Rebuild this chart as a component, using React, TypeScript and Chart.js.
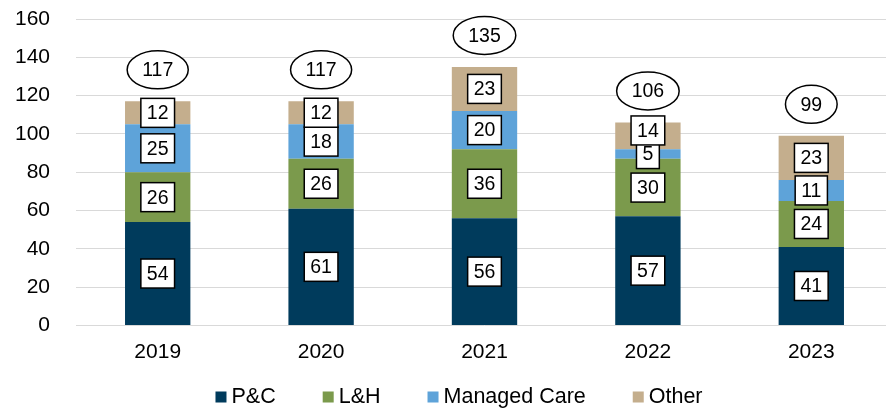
import React, { useEffect, useRef } from "react";
import { Chart, registerables } from "chart.js";

Chart.register(...registerables);

const categories = ["2019", "2020", "2021", "2022", "2023"];
const pcValues = [54, 61, 56, 57, 41];
const lhValues = [26, 26, 36, 30, 24];
const managedCareValues = [25, 18, 20, 5, 11];
const otherValues = [12, 12, 23, 14, 23];
const totalValues = [117, 117, 135, 106, 99];
const seriesNames = ["P&C", "L&H", "Managed Care", "Other"];
const seriesColors = ["#003B5C", "#7B9A4C", "#5EA3D9", "#C4AE8D"];
const yMin = 0;
const yMax = 160;
const yStep = 20;

const FONT = "'Liberation Sans', Arial, sans-serif";

const labelPlugin = {
  id: "boxLabels",
  afterDatasetsDraw(chart: any) {
    const ctx = chart.ctx;
    ctx.save();
    ctx.font = `19.5px ${FONT}`;
    ctx.textAlign = "center";
    ctx.textBaseline = "middle";
    const nDs = chart.data.datasets.length;
    for (let i = 0; i < categories.length; i++) {
      let prevTop = Infinity;
      let topY = Infinity;
      let cx = 0;
      for (let d = 0; d < nDs; d++) {
        const el = chart.getDatasetMeta(d).data[i];
        const p = el.getProps(["x", "y", "base"], true);
        const v = chart.data.datasets[d].data[i];
        cx = p.x;
        topY = Math.min(topY, p.y);
        const cy = (p.y + p.base) / 2;
        const text = String(v);
        const tw = ctx.measureText(text).width;
        const w = tw + 12;
        const h = 29;
        let top = cy - h / 2;
        const bottom = top + h;
        if (bottom > prevTop) {
          top -= (bottom - prevTop) / 2;
        }
        prevTop = top;
        ctx.fillStyle = "#ffffff";
        ctx.fillRect(p.x - w / 2, top, w, h);
        ctx.lineWidth = 1.5;
        ctx.strokeStyle = "#000000";
        ctx.strokeRect(p.x - w / 2, top, w, h);
        ctx.fillStyle = "#000000";
        ctx.fillText(text, p.x, top + h / 2 + 1);
      }
      const t = String(totalValues[i]);
      const tw = ctx.measureText(t).width;
      const rx = tw / 2 + 15;
      const ry = 19;
      const ecy = topY - 31.5;
      ctx.beginPath();
      ctx.ellipse(cx, ecy, rx, ry, 0, 0, Math.PI * 2);
      ctx.fillStyle = "#ffffff";
      ctx.fill();
      ctx.lineWidth = 1.5;
      ctx.strokeStyle = "#000000";
      ctx.stroke();
      ctx.fillStyle = "#000000";
      ctx.fillText(t, cx, ecy + 1);
    }
    ctx.restore();
  },
};

const legendPlugin = {
  id: "customLegend",
  afterDraw(chart: any) {
    const ctx = chart.ctx;
    ctx.save();
    ctx.font = `21.5px ${FONT}`;
    ctx.textBaseline = "middle";
    ctx.textAlign = "left";
    const box = 11;
    const gapText = 5;
    const gapItem = 47;
    const widths = seriesNames.map((n) => box + gapText + ctx.measureText(n).width);
    const total = widths.reduce((a, b) => a + b, 0) + gapItem * (seriesNames.length - 1);
    let x = 459 - total / 2;
    const y = 397;
    seriesNames.forEach((n, k) => {
      ctx.fillStyle = seriesColors[k];
      ctx.fillRect(x, y - box / 2, box, box);
      ctx.fillStyle = "#000000";
      ctx.fillText(n, x + box + gapText, y);
      x += widths[k] + gapItem;
    });
    ctx.restore();
  },
};

export default function App() {
  const ref = useRef<HTMLCanvasElement | null>(null);
  useEffect(() => {
    if (!ref.current) return;
    const seriesValues = [pcValues, lhValues, managedCareValues, otherValues];
    const chart = new Chart(ref.current, {
      type: "bar",
      data: {
        labels: categories,
        datasets: seriesNames.map((name, k) => ({
          label: name,
          data: seriesValues[k],
          backgroundColor: seriesColors[k],
          borderWidth: 0,
          barPercentage: 0.4,
          categoryPercentage: 1.0,
        })),
      },
      options: {
        animation: false,
        responsive: false,
        devicePixelRatio: 1,
        layout: { autoPadding: false, padding: { left: 0, right: 7, top: 19, bottom: 43.5 } },
        plugins: {
          legend: { display: false },
          tooltip: { enabled: false },
        },
        scales: {
          x: {
            stacked: true,
            grid: { display: false, drawTicks: false },
            border: { display: false },
            ticks: {
              padding: 14,
              color: "#000000",
              font: { family: FONT, size: 21 },
            },
            afterFit(scale: any) {
              scale.height = 40;
              scale.paddingLeft = 0;
              scale.paddingRight = 0;
            },
          },
          y: {
            stacked: true,
            min: yMin,
            max: yMax,
            grid: { color: "#d9d9d9", lineWidth: 1, drawTicks: false },
            border: { display: false },
            ticks: {
              stepSize: yStep,
              padding: 26,
              color: "#000000",
              font: { family: FONT, size: 21 },
            },
            afterFit(scale: any) {
              scale.width = 76;
              scale.paddingTop = 0;
              scale.paddingBottom = 0;
            },
          },
        },
      },
      plugins: [labelPlugin, legendPlugin],
    });
    return () => chart.destroy();
  }, []);
  return (
    <div style={{ position: "absolute", left: 0, top: 0, width: 886, height: 409, overflow: "hidden", background: "#fff" }}>
      <canvas ref={ref} width={900} height={409} style={{ width: 900, height: 409, display: "block" }} />
    </div>
  );
}
